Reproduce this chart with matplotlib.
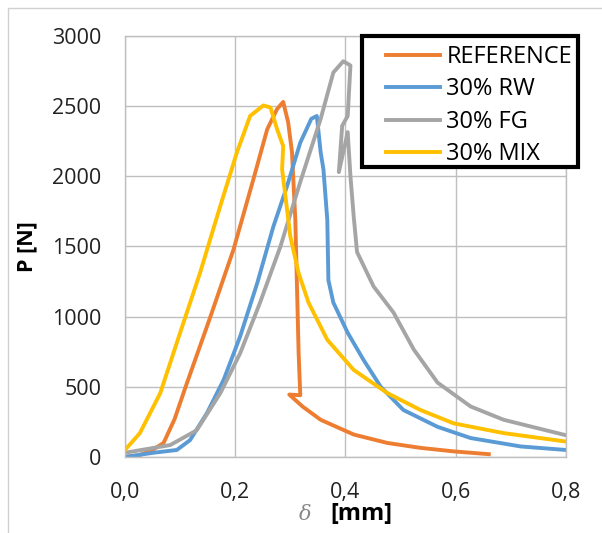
import matplotlib
matplotlib.use("Agg")
import matplotlib.pyplot as plt
from matplotlib.ticker import FuncFormatter
from matplotlib.patches import Rectangle

# curves (displacement in mm, load in N)
ref_x = [0.0, 0.027, 0.05, 0.07, 0.09, 0.11, 0.155, 0.197, 0.233, 0.258, 0.276, 0.287,
         0.296, 0.303, 0.309, 0.315, 0.318, 0.298, 0.322, 0.355, 0.415, 0.476, 0.536,
         0.596, 0.66]
ref_y = [0, 14, 50, 100, 270, 500, 1000, 1480, 1980, 2335, 2480, 2530,
         2385, 2170, 1690, 740, 440, 445, 360, 265, 160, 100, 65,
         40, 20]

rw_x = [0.0, 0.051, 0.094, 0.118, 0.149, 0.179, 0.209, 0.24, 0.269, 0.294, 0.318, 0.338,
        0.348, 0.355, 0.36, 0.367, 0.369, 0.378, 0.404, 0.433, 0.464, 0.505, 0.567,
        0.627, 0.718, 0.8]
rw_y = [0, 30, 50, 120, 315, 550, 860, 1240, 1640, 1930, 2240, 2410,
        2430, 2170, 2050, 1690, 1260, 1100, 885, 690, 500, 335, 215,
        135, 75, 50]

fg_x = [0.0, 0.082, 0.13, 0.173, 0.209, 0.245, 0.282, 0.318, 0.355, 0.378, 0.396, 0.409,
        0.404, 0.394, 0.388, 0.404, 0.409, 0.415, 0.421, 0.451, 0.487, 0.524, 0.567,
        0.627, 0.687, 0.8]
fg_y = [30, 85, 190, 455, 740, 1100, 1500, 1960, 2410, 2740, 2820, 2790,
        2430, 2360, 2030, 2315, 2000, 1710, 1460, 1215, 1030, 765, 530,
        360, 265, 155]

mix_x = [0.0, 0.027, 0.064, 0.1, 0.136, 0.173, 0.203, 0.227, 0.251, 0.264, 0.276, 0.287,
         0.285, 0.291, 0.3, 0.315, 0.333, 0.367, 0.415, 0.476, 0.536, 0.596, 0.687, 0.8]
mix_y = [50, 170, 455, 885, 1310, 1790, 2170, 2430, 2505, 2490, 2335, 2215,
         2050, 1860, 1570, 1310, 1100, 835, 620, 455, 335, 240, 170, 110]

series = [("REFERENCE", ref_x, ref_y, "#ED7D31"),
          ("30% RW", rw_x, rw_y, "#5B9BD5"),
          ("30% FG", fg_x, fg_y, "#A5A5A5"),
          ("30% MIX", mix_x, mix_y, "#FFC000")]

plt.rcParams['font.family'] = ['Open Sans', 'DejaVu Sans']

fig = plt.figure(figsize=(6.02, 5.33), dpi=100)
ax = fig.add_axes([0.2076, 0.1426, 0.7326, 0.7899])

for label, xs, ys, col in series:
    ax.plot(xs, ys, color=col, lw=2.8, label=label, solid_joinstyle='round')

ax.set_xlim(0, 0.8)
ax.set_ylim(0, 3000)
ax.set_xticks([0, 0.2, 0.4, 0.6, 0.8])
ax.set_yticks(range(0, 3001, 500))
ax.xaxis.set_major_formatter(FuncFormatter(lambda v, p: f"{v:.1f}".replace(".", ",")))
ax.grid(True, color="#BFBFBF", lw=1)
ax.set_axisbelow(True)
for s in ax.spines.values():
    s.set_color("#BFBFBF")
    s.set_linewidth(1)
ax.tick_params(length=0, labelsize=15.5, colors="#222222")
ax.tick_params(axis="y", pad=17)
ax.tick_params(axis="x", pad=18)

ax.set_ylabel("P [N]", fontsize=15.5, fontweight="bold", labelpad=0)
ax.yaxis.set_label_coords(-0.198, 0.5)
fig.text(0.507, 0.035, "δ", fontsize=15, color="#888888", style="italic",
         family="DejaVu Serif", ha="center", va="center")
fig.text(0.548, 0.035, "[mm]", fontsize=17, fontweight="bold", ha="left", va="center")

# legend box (drawn separately so it can stick out past the plot area)
ax.add_patch(Rectangle((0.537, 0.688), 0.49, 0.312, transform=ax.transAxes, clip_on=False,
                       facecolor="white", edgecolor="black", lw=3, zorder=5))
leg = ax.legend(loc="upper left", bbox_to_anchor=(0.592, 0.979), fontsize=17,
                handlelength=2.3, handletextpad=0.25, labelspacing=0.36,
                borderpad=0, borderaxespad=0, frameon=False)
leg.set_zorder(6)
for h in leg.get_lines():
    h.set_linewidth(2.8)

# outer chart border
fig.patches.append(Rectangle((8 / 602, -0.1), 1.2, 1 - 8 / 533 + 0.1, transform=fig.transFigure,
                             fill=False, edgecolor="#D0D0D0", lw=1))

fig.savefig("out.png", dpi=100)
